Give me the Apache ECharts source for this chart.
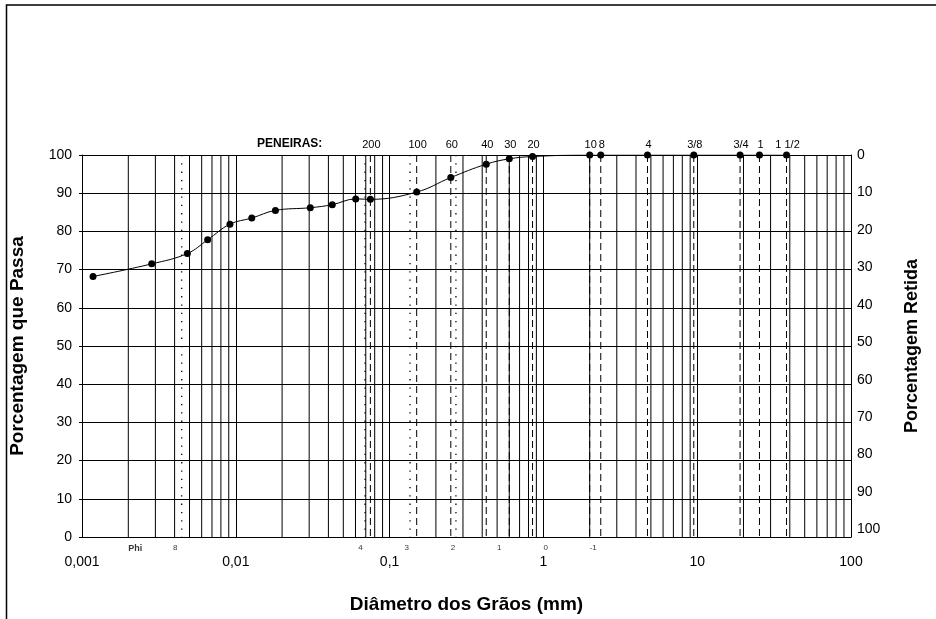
<!DOCTYPE html>
<html><head><meta charset="utf-8">
<script src="https://cdn.jsdelivr.net/npm/echarts@6/dist/echarts.min.js"></script>
<style>html,body{margin:0;padding:0;background:#fff}#c{width:936px;height:619px}</style>
</head><body><div id="c"></div>
<script>
// Grain size data (diameter mm, % passing)
const diameters = [0.00118, 0.00284, 0.00484, 0.00656, 0.00916, 0.0127, 0.0181, 0.0305, 0.0424, 0.0602, 0.075, 0.15, 0.25, 0.425, 0.6, 0.85, 2.0, 2.36, 4.75, 9.5, 19.0, 25.4, 38.1];
const passing = [68.2, 71.5, 74.2, 77.8, 81.9, 83.5, 85.5, 86.2, 87.0, 88.5, 88.4, 90.3, 94.1, 97.6, 99.0, 99.6, 100, 100, 100, 100, 100, 100, 100];
// Sieves
const sieveNames = ['200', '100', '60', '40', '30', '20', '10', '8', '4', '3/8', '3/4', '1', '1 1/2'];
const sieveSizes = [0.075, 0.15, 0.25, 0.425, 0.6, 0.85, 2.0, 2.36, 4.75, 9.5, 19.0, 25.4, 38.1];
// Phi scale labels
const phiLabels = ['Phi', '8', '4', '3', '2', '1', '0', '-1'];
const phiLabelDiameters = [0.002, 0.0039, 0.0625, 0.125, 0.25, 0.5, 1, 2];
const phiLineDiameters = [0.00445, 0.0692, 0.1358, 0.270];
// Axis tick labels
const xTickLabels = ['0,001', '0,01', '0,1', '1', '10', '100'];
const decadeStarts = [0.001, 0.01, 0.1, 1, 10];
const minorMultipliers = [2, 3, 4, 5, 6, 7, 8, 9];

const minorGrid = [];
decadeStarts.forEach(d => minorMultipliers.forEach(m => minorGrid.push(d * m)));

const FONT = 'Liberation Sans, Arial, sans-serif';
const chart = echarts.init(document.getElementById('c'), null, {renderer: 'canvas'});

function vLineRenderer(style, labels) {
  return function (params, api) {
    const x = api.value(0);
    const pb = api.coord([x, 0]);
    const pt = api.coord([x, 100]);
    const line = {type: 'line', shape: {x1: pt[0], y1: pt[1], x2: pb[0], y2: pb[1]}, style: style, silent: true};
    if (!labels) return line;
    return {
      type: 'group',
      children: [line, {
        type: 'text', silent: true,
        style: {
          text: labels[params.dataIndex], x: pt[0] + 1, y: pt[1] - 10,
          fontFamily: FONT, fontSize: 11, fill: '#000', align: 'center', verticalAlign: 'middle'
        }
      }]
    };
  };
}

chart.setOption({
  animation: false,
  backgroundColor: '#fff',
  grid: {left: 82, right: 85, top: 155, bottom: 76, containLabel: false},
  graphic: [
    {type: 'rect', shape: {x: 6.5, y: 5, width: 1000, height: 1000}, style: {fill: 'none', stroke: '#000', lineWidth: 1.5}, silent: true},
    {type: 'text', x: 257, y: 144, style: {text: 'PENEIRAS:', font: 'bold 12px ' + FONT, fill: '#000', align: 'left', verticalAlign: 'middle'}, silent: true}
  ],
  xAxis: {
    type: 'log', logBase: 10, min: 0.001, max: 100,
    name: 'Diâmetro dos Grãos (mm)', nameLocation: 'middle', nameGap: 58,
    nameTextStyle: {fontFamily: FONT, fontWeight: 'bold', fontSize: 19, color: '#000'},
    axisLine: {show: true, lineStyle: {color: '#000', width: 1}},
    axisTick: {show: false},
    axisLabel: {
      fontFamily: FONT, fontSize: 14, color: '#000', margin: 18,
      formatter: v => xTickLabels[Math.round(Math.log10(v)) + 3] || ''
    },
    splitLine: {show: true, lineStyle: {color: '#000', width: 1}}
  },
  yAxis: [
    {
      type: 'value', min: 0, max: 100, interval: 10, position: 'left',
      name: 'Porcentagem que Passa', nameLocation: 'middle', nameGap: 55, nameRotate: 90,
      nameTextStyle: {fontFamily: FONT, fontWeight: 'bold', fontSize: 19, color: '#000'},
      axisLine: {show: true, lineStyle: {color: '#000', width: 1}},
      axisTick: {show: true, length: 3, inside: false, lineStyle: {color: '#000'}},
      axisLabel: {fontFamily: FONT, fontSize: 14, color: '#000', margin: 10},
      splitLine: {show: true, lineStyle: {color: '#000', width: 1}}
    },
    {
      type: 'value', min: 0, max: 102, interval: 10, position: 'right', inverse: true,
      name: 'Porcentagem Retida', nameLocation: 'middle', nameGap: 52, nameRotate: 90,
      nameTextStyle: {fontFamily: FONT, fontWeight: 'bold', fontSize: 18, color: '#000'},
      axisLine: {show: true, lineStyle: {color: '#000', width: 1}},
      axisTick: {show: false},
      axisLabel: {fontFamily: FONT, fontSize: 14, color: '#000', margin: 6, showMaxLabel: false,
        formatter: v => (v > 100.5 ? '' : String(v))},
      splitLine: {show: false}
    }
  ],
  series: [
    {
      name: 'minorGrid', type: 'custom', z: 1, silent: true,
      encode: {x: 0, y: 1},
      data: minorGrid.map(v => [v, 0]),
      renderItem: vLineRenderer({stroke: '#000', lineWidth: 1})
    },
    {
      name: 'sieves', type: 'custom', z: 2, silent: true,
      encode: {x: 0, y: 1},
      data: sieveSizes.map(v => [v, 0]),
      renderItem: vLineRenderer({stroke: '#000', lineWidth: 1, lineDash: [7, 4]}, sieveNames)
    },
    {
      name: 'phiLines', type: 'custom', z: 2, silent: true,
      encode: {x: 0, y: 1},
      data: phiLineDiameters.map(v => [v, 0]),
      renderItem: vLineRenderer({stroke: '#000', lineWidth: 1.3, lineDash: [1.3, 7]})
    },
    {
      name: 'phiLabels', type: 'scatter', symbolSize: 0, clip: false, silent: true, z: 3,
      data: phiLabelDiameters.map((d, i) => ({
        value: [d, 0],
        label: i === 0 ? {fontWeight: 'bold', fontSize: 9} : {}
      })),
      label: {
        show: true, position: 'bottom', align: 'left', distance: 7,
        fontFamily: FONT, fontSize: 8, color: '#000',
        formatter: p => phiLabels[p.dataIndex]
      }
    },
    {
      name: 'Porcentagem que Passa', type: 'line', z: 10,
      data: diameters.map((d, i) => [d, passing[i]]),
      smooth: 0.4,
      symbol: 'circle', symbolSize: 7,
      itemStyle: {color: '#000'},
      lineStyle: {color: '#000', width: 1}
    }
  ]
});
</script></body></html>
